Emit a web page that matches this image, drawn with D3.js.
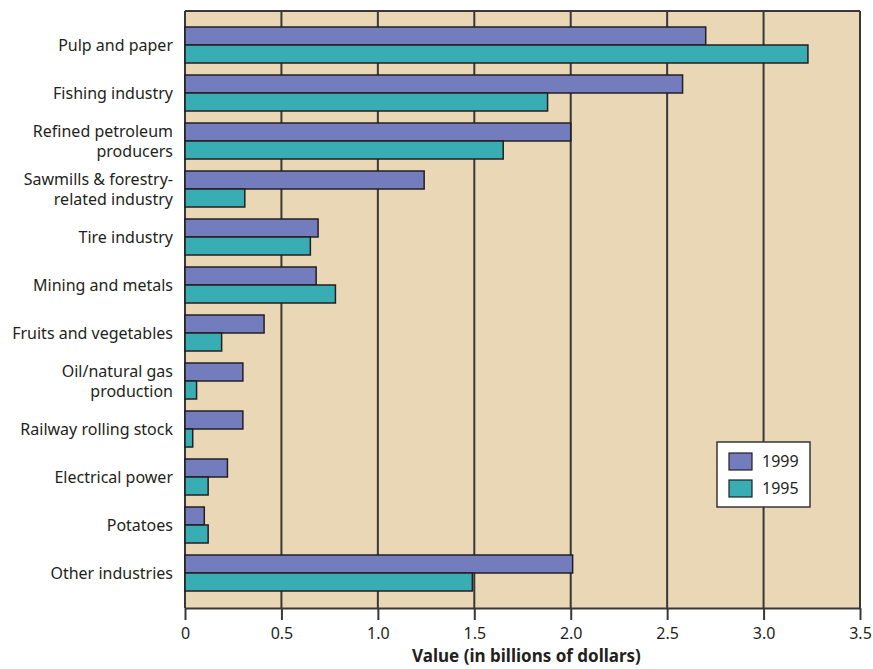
<!DOCTYPE html>
<html><head><meta charset="utf-8">
<script src="https://cdn.jsdelivr.net/npm/d3@7"></script>
<style>body{margin:0;background:#fff}svg{display:block}text{font-family:"Noto Sans",sans-serif;fill:#231f20}</style>
</head><body><svg id="c" width="873" height="669"></svg>
<script>
const categories = ["Pulp and paper","Fishing industry","Refined petroleum\nproducers","Sawmills & forestry-\nrelated industry","Tire industry","Mining and metals","Fruits and vegetables","Oil/natural gas\nproduction","Railway rolling stock","Electrical power","Potatoes","Other industries"];
const values1999 = [2.70,2.58,2.00,1.24,0.69,0.68,0.41,0.30,0.30,0.22,0.10,2.01];
const values1995 = [3.23,1.88,1.65,0.31,0.65,0.78,0.19,0.06,0.04,0.12,0.12,1.49];
const series = ["1999","1995"];
const xTicks = [0,0.5,1.0,1.5,2.0,2.5,3.0,3.5];
const tickLabels = ["0","0.5","1.0","1.5","2.0","2.5","3.0","3.5"];
const colors = {"1999":"#737dbd","1995":"#38adb3"};

const svg = d3.select("#c");
const L=185,R=860,T=11,B=608;
const x = d3.scaleLinear().domain([0,3.5]).range([L,R]);
const y = d3.scaleBand().domain(categories).range([21,597]).paddingInner(0.25).paddingOuter(0.125);
const ys = d3.scaleBand().domain(series).range([0,y.bandwidth()]);

svg.append("rect").attr("x",L).attr("y",T).attr("width",R-L).attr("height",B-T).attr("fill","#e9d7b6");
svg.append("g").selectAll("line").data(xTicks).join("line")
  .attr("x1",d=>x(d)).attr("x2",d=>x(d)).attr("y1",T).attr("y2",B)
  .attr("stroke","#3b3637").attr("stroke-width",2);
svg.append("line").attr("x1",L).attr("x2",R).attr("y1",T).attr("y2",T).attr("stroke","#3b3637").attr("stroke-width",2);

const g = svg.append("g");
categories.forEach((c,i)=>{
  [["1999",values1999[i]],["1995",values1995[i]]].forEach(([s,v])=>{
    g.append("rect").attr("x",x(0)).attr("y",y(c)+ys(s)).attr("width",x(v)-x(0)).attr("height",ys.bandwidth())
     .attr("fill",colors[s]).attr("stroke","#231f20").attr("stroke-width",1.5);
  });
});

const ax = svg.append("g").attr("transform",`translate(0,${B})`)
  .call(d3.axisBottom(x).tickValues(xTicks).tickFormat((d,i)=>tickLabels[i]).tickSize(12).tickSizeOuter(0));
ax.select(".domain").attr("stroke","#3b3637").attr("stroke-width",2);
ax.selectAll(".tick line").attr("stroke","#3b3637").attr("stroke-width",2);
ax.selectAll(".tick text").attr("font-size",16).attr("dy","1.0em").style("font-family","'Noto Sans',sans-serif").attr("fill","#231f20");
svg.append("text").attr("x",x(1.75)+4).attr("y",662).attr("text-anchor","middle").attr("font-size",17).attr("font-weight","bold").text("Value (in billions of dollars)");

categories.forEach(c=>{
  const lines=c.split("\n");
  const cy=y(c)+y.bandwidth()/2;
  const t=svg.append("text").attr("text-anchor","end").attr("font-size",16);
  lines.forEach((ln,j)=>{
    t.append("tspan").attr("x",173).attr("y",cy+(j-(lines.length-1)/2)*20).attr("dy","0.35em").text(ln);
  });
});

const lg = svg.append("g");
lg.append("rect").attr("x",717).attr("y",442).attr("width",93).attr("height",65).attr("fill","#fff").attr("stroke","#3b3637").attr("stroke-width",1.5);
series.forEach((s,i)=>{
  lg.append("rect").attr("x",729).attr("y",453+i*27).attr("width",23).attr("height",17).attr("fill",colors[s]).attr("stroke","#231f20").attr("stroke-width",1.2);
  lg.append("text").attr("x",762).attr("y",461.5+i*27).attr("dy","0.35em").attr("font-size",16).text(s);
});
</script></body></html>
